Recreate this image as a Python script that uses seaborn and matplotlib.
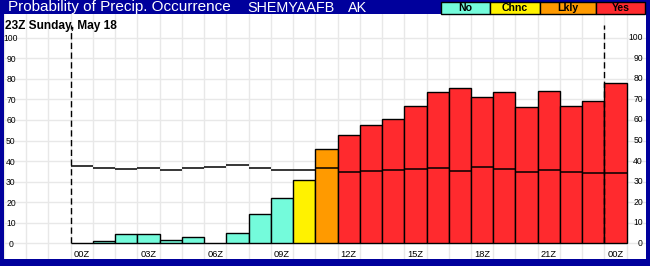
import matplotlib
matplotlib.use("Agg")
import matplotlib.pyplot as plt
from matplotlib.patches import Rectangle
from matplotlib.transforms import blended_transform_factory
import seaborn as sns
import pandas as pd

# ---- data ----
hours = list(range(25))  # hourly slots 23Z+1 ... 00Z next day
pop_values = [0, 1.0, 4.4, 4.4, 1.5, 2.9, 0, 4.9, 14.1, 21.9, 30.6, 45.7,
              52.5, 57.4, 60.3, 66.6, 73.4, 75.4, 71.0, 73.4, 66.1, 73.9,
              66.6, 69.0, 77.8]
categories = ["No"] * 10 + ["Chnc"] + ["Lkly"] + ["Yes"] * 13
ref_line = [37.4, 36.5, 36.0, 36.5, 35.5, 36.5, 36.9, 37.9, 36.5, 35.5, 35.5,
            36.5, 34.5, 35.0, 35.5, 36.0, 36.5, 35.0, 36.9, 36.0, 34.5, 35.5,
            34.5, 34.0, 34.0]
x_tick_labels = ["00Z", "03Z", "06Z", "09Z", "12Z", "15Z", "18Z", "21Z", "00Z"]
y_ticks = [0, 10, 20, 30, 40, 50, 60, 70, 80, 90, 100]
legend_labels = ["No", "Chnc", "Lkly", "Yes"]
title = "Probability of Precip. Occurrence"
station = "SHEMYAAFB"
state = "AK"
subtitle = "23Z Sunday, May 18"

palette = {"No": "#74FBDB", "Chnc": "#FFF200", "Lkly": "#FF9A00", "Yes": "#FF2A2E"}
BLUE = "#00009C"

sns.set_theme(style="white")
plt.rcParams["font.family"] = ["Liberation Sans", "DejaVu Sans"]

W, H = 650, 266
fig = plt.figure(figsize=(W / 100, H / 100), dpi=100, facecolor=BLUE)
ax = fig.add_axes([4 / W, (H - 259) / H, 642 / W, 245 / H])
ax.set_facecolor("white")

df = pd.DataFrame({"x": [h + 0.5 for h in hours], "pop": pop_values, "cat": categories})

# grid first
ax.set_axisbelow(True)
ax.set_xticks(range(-3, 26), minor=True)
ax.grid(which="minor", axis="x", color="#E8E8E8", lw=1.0)
ax.set_yticks(y_ticks)
ax.grid(which="major", axis="y", color="#E8E8E8", lw=1.0)

sns.barplot(data=df, x="x", y="pop", hue="cat", palette=palette,
            hue_order=legend_labels, native_scale=True, width=1, dodge=False,
            saturation=1, edgecolor="black", linewidth=1.0, errorbar=None,
            legend=False, ax=ax, zorder=2)

# reference step segments
ax.hlines(ref_line, [h for h in hours], [h + 1 for h in hours], colors="black",
          lw=1.1, zorder=3)

# dashed verticals at start/end
ax.vlines([0, 24], 0, 106, colors="black", lw=1.0, linestyles=(0, (4.5, 2.5)), zorder=4)

ax.set_xlim(-3, 25.87)
ax.set_ylim(-7.6, 111.5)
for s in ax.spines.values():
    s.set_visible(False)
ax.set_xlabel("")
ax.set_ylabel("")

# x tick labels inside the axes
ax.set_xticks([0.5 + 3 * i for i in range(len(x_tick_labels))])
ax.set_xticklabels(x_tick_labels)
ax.tick_params(axis="x", which="both", length=0, pad=-6.6, labelsize=6.7, colors="black")
ax.tick_params(axis="y", length=0, pad=-5.0, labelsize=6.2, colors="black")
for t in ax.get_yticklabels():
    t.set_ha("center")

# right-side value labels
trans = blended_transform_factory(ax.transAxes, ax.transData)
for v in y_ticks:
    ax.text(1 - 3 / 642, v, str(v), transform=trans, ha="right", va="center",
            fontsize=6.2, color="black", zorder=5)

# subtitle
fig.text(5 / W, 1 - 25.5 / H, subtitle, fontsize=8.6, fontweight="bold",
         color="black", va="center", ha="left")

# header
fig.text(8 / W, 1 - 7.5 / H, title, fontsize=11.0, color="white", va="center", ha="left")
fig.text(247 / W, 1 - 7.5 / H, station, fontsize=10.4, color="white", va="center", ha="left")
fig.text(348 / W, 1 - 7.5 / H, state, fontsize=10.4, color="white", va="center", ha="left")

edges = [441, 490, 540, 596, 645]
for i, lab in enumerate(legend_labels):
    x0, x1 = edges[i], edges[i + 1]
    fig.add_artist(Rectangle((x0 / W, 1 - 13.5 / H), (x1 - x0) / W, 11.8 / H,
                             transform=fig.transFigure, facecolor=palette[lab],
                             edgecolor="black", lw=1.0))
    fig.text((x0 + x1) / 2 / W, 1 - 7.6 / H, lab, fontsize=7.6, fontweight="bold",
             color="black", ha="center", va="center")

fig.savefig("out.png", dpi=100, facecolor=BLUE)
